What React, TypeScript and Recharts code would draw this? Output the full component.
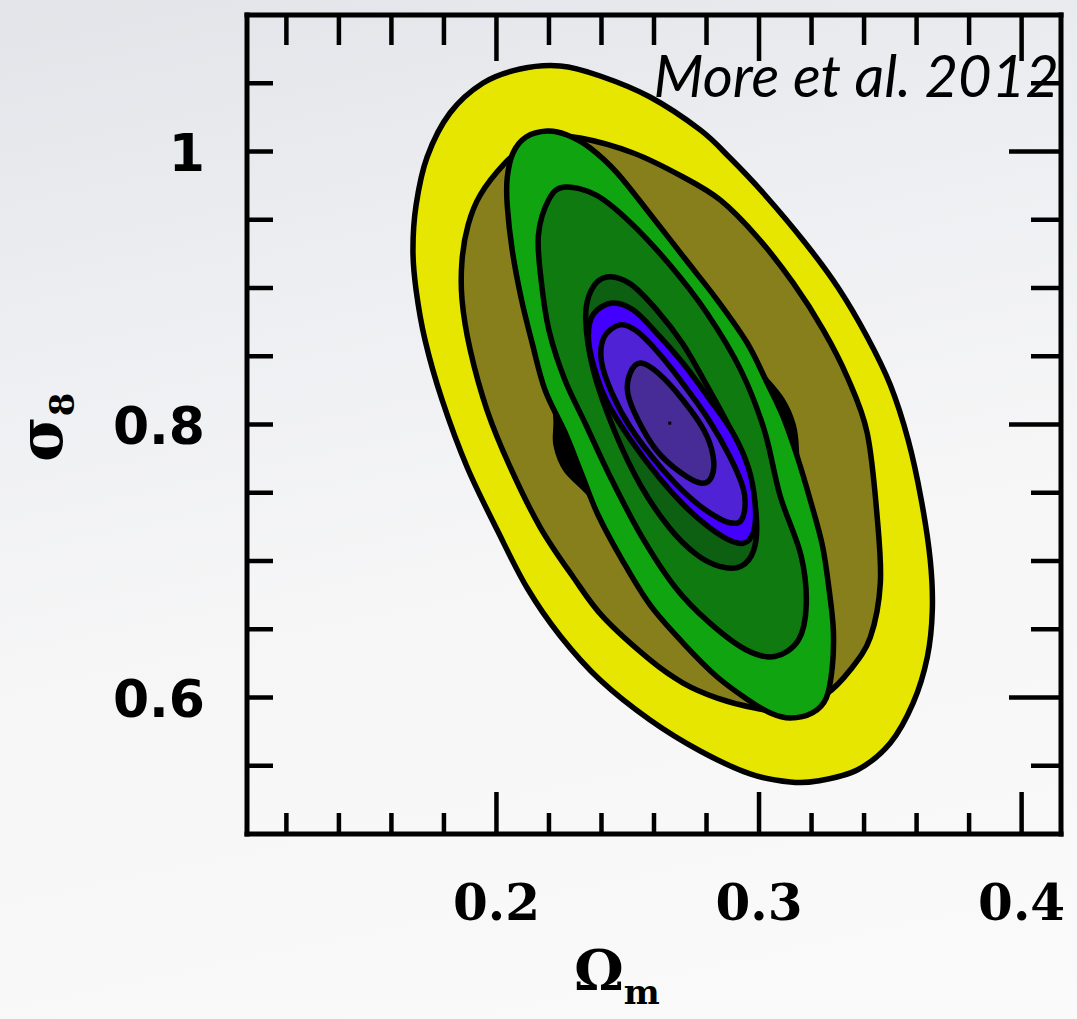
import React from 'react';
import { ScatterChart, Scatter, XAxis, YAxis, Label } from 'recharts';

type Pt = { x: number; y: number };

// contour levels, outermost first
const yellowContour: Pt[] = [
  { x: 0.2243, y: 1.0626 }, { x: 0.2395, y: 1.0553 }, { x: 0.2585, y: 1.0399 }, { x: 0.2776, y: 1.0158 },
  { x: 0.289, y: 0.9952 }, { x: 0.3016, y: 0.9696 }, { x: 0.3176, y: 0.933 }, { x: 0.3302, y: 0.9 },
  { x: 0.3412, y: 0.8641 }, { x: 0.35, y: 0.8289 }, { x: 0.3568, y: 0.7886 }, { x: 0.3618, y: 0.7447 },
  { x: 0.3652, y: 0.7007 }, { x: 0.366, y: 0.6641 }, { x: 0.3641, y: 0.6297 }, { x: 0.3587, y: 0.596 },
  { x: 0.35, y: 0.5667 }, { x: 0.3374, y: 0.5469 }, { x: 0.3222, y: 0.5388 }, { x: 0.3119, y: 0.5381 },
  { x: 0.2966, y: 0.544 }, { x: 0.2776, y: 0.5608 }, { x: 0.2585, y: 0.5835 }, { x: 0.2395, y: 0.6128 },
  { x: 0.2243, y: 0.6451 }, { x: 0.2117, y: 0.6802 }, { x: 0.2003, y: 0.7227 }, { x: 0.1888, y: 0.7689 },
  { x: 0.1793, y: 0.818 }, { x: 0.1728, y: 0.8619 }, { x: 0.1694, y: 0.8985 }, { x: 0.1682, y: 0.9278 },
  { x: 0.1694, y: 0.9608 }, { x: 0.1736, y: 0.996 }, { x: 0.1823, y: 1.0282 }, { x: 0.1949, y: 1.0502 },
  { x: 0.209, y: 1.0604 },
];

const oliveContour: Pt[] = [
  { x: 0.2185, y: 1.0106 }, { x: 0.2319, y: 1.0099 }, { x: 0.2521, y: 0.9989 }, { x: 0.2711, y: 0.9813 },
  { x: 0.2852, y: 0.9645 }, { x: 0.2993, y: 0.9374 }, { x: 0.313, y: 0.9037 }, { x: 0.3245, y: 0.8692 },
  { x: 0.3336, y: 0.8348 }, { x: 0.3412, y: 0.7938 }, { x: 0.345, y: 0.7322 }, { x: 0.3462, y: 0.6839 },
  { x: 0.3424, y: 0.6443 }, { x: 0.3347, y: 0.6201 }, { x: 0.3252, y: 0.6018 }, { x: 0.3119, y: 0.5894 },
  { x: 0.2985, y: 0.5923 }, { x: 0.2841, y: 0.5996 }, { x: 0.2711, y: 0.6106 }, { x: 0.2585, y: 0.6275 },
  { x: 0.2406, y: 0.659 }, { x: 0.2292, y: 0.6883 }, { x: 0.2166, y: 0.7249 }, { x: 0.2052, y: 0.7689 },
  { x: 0.1964, y: 0.8106 }, { x: 0.19, y: 0.8546 }, { x: 0.1869, y: 0.8912 }, { x: 0.1869, y: 0.9205 },
  { x: 0.1892, y: 0.9462 }, { x: 0.1938, y: 0.9681 }, { x: 0.2033, y: 0.9916 }, { x: 0.2109, y: 1.0033 },
];

// dark level that only peeks out beside the bright green one
const shadowContour: Pt[] = [
  { x: 0.239, y: 0.935 }, { x: 0.274, y: 0.891 }, { x: 0.2928, y: 0.8619 }, { x: 0.2997, y: 0.84 },
  { x: 0.3088, y: 0.818 }, { x: 0.313, y: 0.7996 }, { x: 0.3142, y: 0.7813 }, { x: 0.3138, y: 0.7593 },
  { x: 0.308, y: 0.723 }, { x: 0.293, y: 0.679 }, { x: 0.274, y: 0.664 }, { x: 0.257, y: 0.69 },
  { x: 0.2414, y: 0.73 }, { x: 0.2357, y: 0.7484 }, { x: 0.2265, y: 0.7667 }, { x: 0.2227, y: 0.785 },
  { x: 0.2227, y: 0.8033 }, { x: 0.2216, y: 0.8326 }, { x: 0.222, y: 0.869 }, { x: 0.228, y: 0.906 },
];

const brightGreenContour: Pt[] = [
  { x: 0.2193, y: 1.015 }, { x: 0.2269, y: 1.0121 }, { x: 0.2357, y: 1.0026 }, { x: 0.246, y: 0.9842 },
  { x: 0.2585, y: 0.9542 }, { x: 0.2719, y: 0.9212 }, { x: 0.2841, y: 0.8912 }, { x: 0.2955, y: 0.8597 },
  { x: 0.3031, y: 0.8304 }, { x: 0.3092, y: 0.8055 }, { x: 0.3146, y: 0.7762 }, { x: 0.3195, y: 0.7447 },
  { x: 0.3241, y: 0.7117 }, { x: 0.3267, y: 0.6788 }, { x: 0.3283, y: 0.6495 }, { x: 0.3279, y: 0.6223 },
  { x: 0.3256, y: 0.5996 }, { x: 0.3203, y: 0.5887 }, { x: 0.3119, y: 0.585 }, { x: 0.3043, y: 0.5887 },
  { x: 0.2959, y: 0.5982 }, { x: 0.2841, y: 0.615 }, { x: 0.2711, y: 0.6399 }, { x: 0.2585, y: 0.6678 },
  { x: 0.2479, y: 0.7007 }, { x: 0.2387, y: 0.7337 }, { x: 0.2326, y: 0.763 }, { x: 0.2262, y: 0.7938 },
  { x: 0.2185, y: 0.8253 }, { x: 0.2136, y: 0.8597 }, { x: 0.2094, y: 0.8927 }, { x: 0.206, y: 0.9278 },
  { x: 0.2041, y: 0.9608 }, { x: 0.2041, y: 0.9806 }, { x: 0.2063, y: 0.9989 }, { x: 0.2113, y: 1.0106 },
];

const darkGreenContour: Pt[] = [
  { x: 0.226, y: 0.974 }, { x: 0.238, y: 0.968 }, { x: 0.251, y: 0.948 }, { x: 0.266, y: 0.917 },
  { x: 0.28, y: 0.882 }, { x: 0.293, y: 0.84 }, { x: 0.302, y: 0.796 }, { x: 0.308, y: 0.748 },
  { x: 0.316, y: 0.704 }, { x: 0.318, y: 0.668 }, { x: 0.315, y: 0.642 }, { x: 0.306, y: 0.63 },
  { x: 0.295, y: 0.635 }, { x: 0.281, y: 0.655 }, { x: 0.268, y: 0.681 }, { x: 0.255, y: 0.719 },
  { x: 0.243, y: 0.763 }, { x: 0.234, y: 0.8 }, { x: 0.226, y: 0.833 }, { x: 0.22, y: 0.869 },
  { x: 0.217, y: 0.906 }, { x: 0.216, y: 0.939 }, { x: 0.22, y: 0.965 },
];

const deepGreenContour: Pt[] = [
  { x: 0.242, y: 0.908 }, { x: 0.251, y: 0.903 }, { x: 0.261, y: 0.884 }, { x: 0.271, y: 0.859 },
  { x: 0.28, y: 0.829 }, { x: 0.289, y: 0.797 }, { x: 0.296, y: 0.764 }, { x: 0.299, y: 0.731 },
  { x: 0.298, y: 0.708 }, { x: 0.293, y: 0.696 }, { x: 0.285, y: 0.696 }, { x: 0.276, y: 0.705 },
  { x: 0.266, y: 0.724 }, { x: 0.255, y: 0.755 }, { x: 0.245, y: 0.795 }, { x: 0.237, y: 0.839 },
  { x: 0.234, y: 0.877 }, { x: 0.236, y: 0.898 },
];

const blueContour: Pt[] = [
  { x: 0.244, y: 0.889 }, { x: 0.237, y: 0.881 }, { x: 0.235, y: 0.865 }, { x: 0.237, y: 0.843 },
  { x: 0.242, y: 0.817 }, { x: 0.251, y: 0.789 }, { x: 0.262, y: 0.761 }, { x: 0.274, y: 0.736 },
  { x: 0.286, y: 0.718 }, { x: 0.294, y: 0.713 }, { x: 0.298, y: 0.722 }, { x: 0.2985, y: 0.742 },
  { x: 0.296, y: 0.768 }, { x: 0.29, y: 0.794 }, { x: 0.281, y: 0.819 }, { x: 0.271, y: 0.845 },
  { x: 0.261, y: 0.867 }, { x: 0.252, y: 0.884 },
];

const purpleContour: Pt[] = [
  { x: 0.247, y: 0.873 }, { x: 0.241, y: 0.864 }, { x: 0.24, y: 0.846 }, { x: 0.244, y: 0.823 },
  { x: 0.251, y: 0.798 }, { x: 0.262, y: 0.77 }, { x: 0.274, y: 0.746 }, { x: 0.285, y: 0.731 },
  { x: 0.292, y: 0.728 }, { x: 0.2945, y: 0.737 }, { x: 0.294, y: 0.753 }, { x: 0.289, y: 0.776 },
  { x: 0.281, y: 0.803 }, { x: 0.271, y: 0.83 }, { x: 0.261, y: 0.854 }, { x: 0.253, y: 0.869 },
];

const coreContour: Pt[] = [
  { x: 0.255, y: 0.845 }, { x: 0.251, y: 0.838 }, { x: 0.25, y: 0.823 }, { x: 0.254, y: 0.803 },
  { x: 0.261, y: 0.781 }, { x: 0.27, y: 0.765 }, { x: 0.278, y: 0.757 }, { x: 0.282, y: 0.762 },
  { x: 0.2825, y: 0.777 }, { x: 0.279, y: 0.796 }, { x: 0.271, y: 0.818 }, { x: 0.262, y: 0.837 },
];

const bestFit: Pt[] = [{ x: 0.266, y: 0.801 }];

const xMinorTicks = [0.12, 0.14, 0.16, 0.18, 0.22, 0.24, 0.26, 0.28, 0.32, 0.34, 0.36, 0.38];
const xMajorTicks = [0.2, 0.3, 0.4];
const xTickLabels = ['0.2', '0.3', '0.4'];
const yMinorTicks = [0.55, 0.65, 0.7, 0.75, 0.85, 0.9, 0.95, 1.05];
const yMajorTicks = [0.6, 0.8, 1.0];
const yTickLabels = ['0.6', '0.8', '1'];

const X_DOMAIN: [number, number] = [0.105, 0.415];
const Y_DOMAIN: [number, number] = [0.5, 1.1];

const xTicks = [...xMinorTicks, ...xMajorTicks].sort((a, b) => a - b);
const yTicks = [...yMinorTicks, ...yMajorTicks].sort((a, b) => a - b);

const isMajor = (list: number[], v: number) => list.some((m) => Math.abs(m - v) < 1e-6);
const labelFor = (list: number[], labels: string[], v: number) =>
  labels[list.findIndex((m) => Math.abs(m - v) < 1e-6)];

// smooth closed curve through the scaled points (catmull-rom)
const closedPath = (pts: { x: number; y: number }[]) => {
  const n = pts.length;
  if (!n) return '';
  let d = `M${pts[0].x},${pts[0].y}`;
  for (let i = 0; i < n; i++) {
    const p0 = pts[(i - 1 + n) % n];
    const p1 = pts[i];
    const p2 = pts[(i + 1) % n];
    const p3 = pts[(i + 2) % n];
    const c1x = p1.x + (p2.x - p0.x) / 6;
    const c1y = p1.y + (p2.y - p0.y) / 6;
    const c2x = p2.x - (p3.x - p1.x) / 6;
    const c2y = p2.y - (p3.y - p1.y) / 6;
    d += ` C${c1x},${c1y} ${c2x},${c2y} ${p2.x},${p2.y}`;
  }
  return d + ' Z';
};

const contourLine = (fill: string) => (props: any) => (
  <path
    d={closedPath(props.points || [])}
    fill={fill}
    stroke="#000"
    strokeWidth={5.5}
    strokeLinejoin="round"
  />
);

const noShape = () => <g />;

const dotShape = (p: any) => <rect x={p.cx - 1.5} y={p.cy - 1.5} width={3} height={3} fill="#000" />;

const bottomTick = (props: any) => {
  const { x, y, payload } = props;
  const major = isMajor(xMajorTicks, payload.value);
  return (
    <g>
      <line x1={x} x2={x} y1={y} y2={y - (major ? 42 : 21)} stroke="#000" strokeWidth={4.5} />
      {major && (
        <text x={x} y={y + 86} textAnchor="middle" fontFamily="'DejaVu Serif', serif" fontWeight={700} fontSize={50} fill="#000">
          {labelFor(xMajorTicks, xTickLabels, payload.value)}
        </text>
      )}
    </g>
  );
};

const topTick = (props: any) => {
  const { x, y, payload } = props;
  const major = isMajor(xMajorTicks, payload.value);
  return <line x1={x} x2={x} y1={y} y2={y + (major ? 46 : 30)} stroke="#000" strokeWidth={4.5} />;
};

const leftTick = (props: any) => {
  const { x, y, payload } = props;
  const major = isMajor(yMajorTicks, payload.value);
  return (
    <g>
      <line x1={x} x2={x + 26} y1={y} y2={y} stroke="#000" strokeWidth={4.5} />
      {major && (
        <text x={x - 42} y={y + 19} textAnchor="end" fontFamily="'DejaVu Sans', sans-serif" fontWeight={700} fontSize={52} fill="#000">
          {labelFor(yMajorTicks, yTickLabels, payload.value)}
        </text>
      )}
    </g>
  );
};

const rightTick = (props: any) => {
  const { x, y, payload } = props;
  const major = isMajor(yMajorTicks, payload.value);
  return <line x1={x} x2={x - (major ? 52 : 30)} y1={y} y2={y} stroke="#000" strokeWidth={4.5} />;
};

const frame = { stroke: '#000', strokeWidth: 5, strokeLinecap: 'square' as const };

const xTitle = () => (
  <text x={574} y={990} fontFamily="'DejaVu Serif', serif" fontWeight={700} fontSize={56} fill="#000">
    Ω<tspan fontSize={34} dy={14}>m</tspan>
  </text>
);

const yTitle = () => (
  <text
    x={0}
    y={0}
    transform="translate(62, 462) rotate(-90)"
    fontFamily="'DejaVu Serif', serif"
    fontWeight={700}
    fontSize={62}
    fill="#000"
  >
    σ<tspan fontSize={34} dy={12}>8</tspan>
  </text>
);

const levels: { data: Pt[]; fill: string }[] = [
  { data: yellowContour, fill: '#e6e600' },
  { data: oliveContour, fill: '#877f1c' },
  { data: shadowContour, fill: '#000000' },
  { data: brightGreenContour, fill: '#10a510' },
  { data: darkGreenContour, fill: '#0e7a10' },
  { data: deepGreenContour, fill: '#0d5f12' },
  { data: blueContour, fill: '#4400ff' },
  { data: purpleContour, fill: '#5022d6' },
  { data: coreContour, fill: '#472b96' },
];

export default function App() {
  return (
    <div
      style={{
        position: 'absolute',
        left: 0,
        top: 0,
        width: 1077,
        height: 1019,
        background: 'linear-gradient(168deg, #e3e4e9 0%, #eeeff2 30%, #f6f6f7 55%, #fafafa 100%)',
      }}
    >
      <ScatterChart width={1077} height={1019} margin={{ top: 0, right: 0, bottom: 0, left: 0 }}>
        <XAxis
          xAxisId="b"
          dataKey="x"
          type="number"
          domain={X_DOMAIN}
          ticks={xTicks}
          interval={0}
          height={185}
          tickSize={0}
          tickMargin={0}
          tick={bottomTick}
          axisLine={frame}
        >
          <Label content={xTitle} />
        </XAxis>
        <XAxis
          xAxisId="t"
          orientation="top"
          dataKey="x"
          type="number"
          domain={X_DOMAIN}
          ticks={xTicks}
          interval={0}
          height={15}
          tickSize={0}
          tickMargin={0}
          tick={topTick}
          axisLine={frame}
        />
        <YAxis
          yAxisId="l"
          dataKey="y"
          type="number"
          domain={Y_DOMAIN}
          ticks={yTicks}
          interval={0}
          width={247}
          tickSize={0}
          tickMargin={0}
          tick={leftTick}
          axisLine={frame}
        >
          <Label content={yTitle} />
        </YAxis>
        <YAxis
          yAxisId="r"
          orientation="right"
          dataKey="y"
          type="number"
          domain={Y_DOMAIN}
          ticks={yTicks}
          interval={0}
          width={16}
          tickSize={0}
          tickMargin={0}
          tick={rightTick}
          axisLine={frame}
        />
        {levels.map((lv, i) => (
          <Scatter
            key={i}
            xAxisId="b"
            yAxisId="l"
            data={lv.data}
            isAnimationActive={false}
            shape={noShape}
            line={contourLine(lv.fill)}
            lineType="joint"
          />
        ))}
        <Scatter xAxisId="t" yAxisId="r" data={bestFit} isAnimationActive={false} shape={dotShape} />
      </ScatterChart>
      <div
        style={{
          position: 'absolute',
          right: 18,
          top: 42,
          fontFamily: 'Lato, sans-serif',
          fontStyle: 'italic',
          fontSize: 58,
          lineHeight: '66px',
          color: '#000',
          whiteSpace: 'nowrap',
        }}
      >
        More et al. 2012
      </div>
    </div>
  );
}
